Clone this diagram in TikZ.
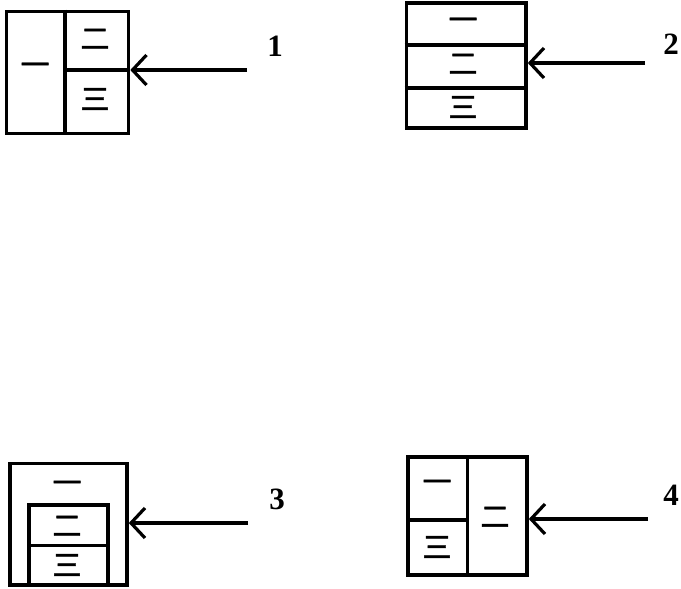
\documentclass[tikz,border=0pt]{standalone}
\usepackage{fontspec}
\setmainfont{Liberation Serif}
\newfontfamily\cjk[FakeBold=1.5]{Noto Sans CJK SC}
\usetikzlibrary{arrows.meta}
\begin{document}
\begin{tikzpicture}[x=1pt, y=-1pt,
  frame/.style={draw, line width=3.6pt, inner sep=0pt},
  divider/.style={line width=3.4pt},
  glyph/.style={inner sep=0pt, font=\cjk\fontsize{29}{29}\selectfont},
  numlabel/.style={inner sep=0pt, font=\bfseries\fontsize{31}{31}\selectfont},
  pointer/.style={line width=3.2pt, -{Straight Barb[length=14pt, width=30pt]}}]
  \useasboundingbox (0,0) rectangle (681,589);

  % figure 1: one cell on the left, two stacked on the right
  \node[frame, minimum width=122pt, minimum height=122pt] (b1) at (67.5,72.5) {};
  \draw[divider] (65,0 |- b1.north) -- (65,0 |- b1.south);
  \draw[divider] (65,70) -- (b1.east |- 0,70);
  \node[glyph] (c11) at (35,69) {一};
  \node[glyph] (c12) at (95,39) {二};
  \node[glyph] (c13) at (95,99) {三};
  \coordinate (t1) at (247,70);
  \draw[pointer] (t1) -- (t1 -| b1.east);
  \node[numlabel] (n1) at (275,46) {1};

  % figure 2: three rows
  \node[frame, minimum width=119.5pt, minimum height=125pt] (b2) at (466.25,65.5) {};
  \draw[divider] (b2.west |- 0,45) -- (b2.east |- 0,45);
  \draw[divider] (b2.west |- 0,88) -- (b2.east |- 0,88);
  \node[glyph] (c21) at (463,24) {一};
  \node[glyph] (c22) at (463,64) {二};
  \node[glyph] (c23) at (463,107) {三};
  \coordinate (t2) at (645,63);
  \draw[pointer] (t2) -- (t2 -| b2.east);
  \node[numlabel] (n2) at (671,44) {2};

  % figure 3: an inner frame of two cells inside an outer one
  \node[frame, minimum width=117pt, minimum height=121.5pt] (b3) at (68.5,524.25) {};
  \node[frame, minimum width=79pt, minimum height=80pt] (b3i) at (68.5,545) {};
  \draw[divider] (b3i.west |- 0,545.5) -- (b3i.east |- 0,545.5);
  \node[glyph] (c31) at (67,487) {一};
  \node[glyph] (c32) at (67,526) {二};
  \node[glyph] (c33) at (67,565) {三};
  \coordinate (t3) at (248,523);
  \draw[pointer] (t3) -- (t3 -| b3.east);
  \node[numlabel] (n3) at (277,499) {3};

  % figure 4: two stacked cells on the left, one on the right
  \node[frame, minimum width=119pt, minimum height=118pt] (b4) at (467.5,516) {};
  \draw[divider] (467.5,0 |- b4.north) -- (467.5,0 |- b4.south);
  \draw[divider] (b4.west |- 0,520) -- (467.5,520);
  \node[glyph] (c41) at (437,486) {一};
  \node[glyph] (c42) at (437,547) {三};
  \node[glyph] (c43) at (495,517) {二};
  \coordinate (t4) at (648,519);
  \draw[pointer] (t4) -- (t4 -| b4.east);
  \node[numlabel] (n4) at (671,495) {4};
\end{tikzpicture}
\end{document}
